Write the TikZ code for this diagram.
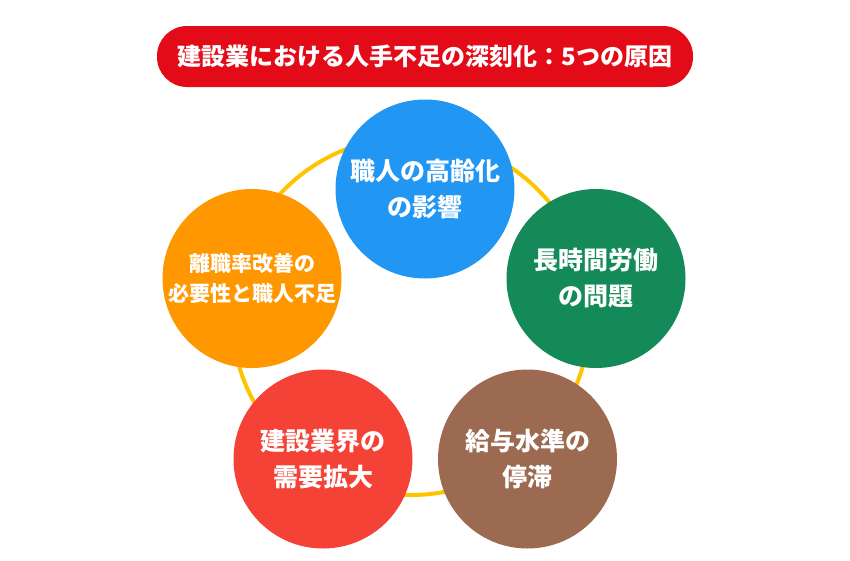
\documentclass[tikz,border=0pt]{standalone}
\usepackage{fontspec}
\newfontfamily\jpfont{Noto Sans CJK JP}
\definecolor{titlered}{HTML}{E30B17}
\definecolor{ringgold}{HTML}{FFC400}
\definecolor{agingblue}{HTML}{2196F3}
\definecolor{hoursgreen}{HTML}{138A57}
\definecolor{wagebrown}{HTML}{9C6A50}
\definecolor{demandred}{HTML}{F44336}
\definecolor{turnorange}{HTML}{FF9800}
\tikzset{
  cause/.style={circle, fill=#1, minimum size=179pt, inner sep=0pt, align=center,
    text=white, font=\jpfont\bfseries\fontsize{25}{36}\selectfont},
  smallcause/.style={cause=#1, font=\jpfont\bfseries\fontsize{21}{30}\selectfont},
}
\begin{document}
\begin{tikzpicture}[x=1pt,y=-1pt]
        \useasboundingbox (0,0) rectangle (850,560);
        \node (T) at (425,56.5) [fill=titlered, rounded corners=30pt, minimum width=536pt,
          minimum height=61pt, text=white, font=\jpfont\bfseries\fontsize{24}{28}\selectfont]
          {建設業における人手不足の深刻化：5つの原因};
        \coordinate (O) at (411,316);
        \draw [ringgold, line width=4pt] (O) circle (179pt);
        \node (C0) at (425,189) [cause=agingblue] {職人の高齢化\\の影響};
        \node (C1) at (596,278.5) [cause=hoursgreen] {長時間労働\\の問題};
        \node (C2) at (527.5,459) [cause=wagebrown] {給与水準の\\停滞};
        \node (C3) at (323,459) [cause=demandred] {建設業界の\\需要拡大};
        \node (C4) at (252,278.5) [smallcause=turnorange] {離職率改善の\\必要性と職人不足};
\end{tikzpicture}
\end{document}
